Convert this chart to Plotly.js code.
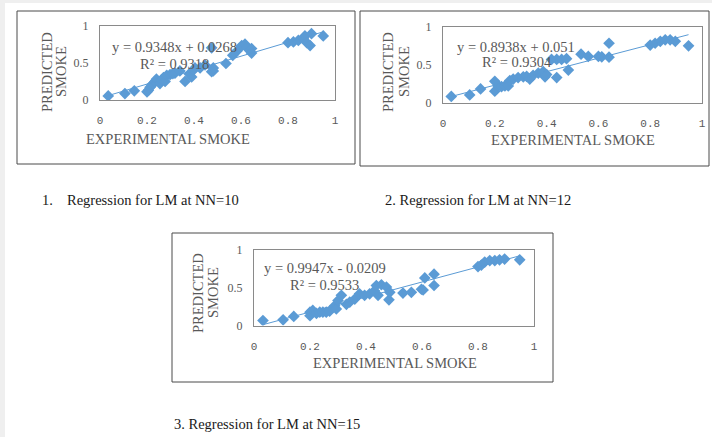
<!DOCTYPE html>
<html>
<head>
<meta charset="utf-8">
<script src="https://cdn.plot.ly/plotly-3.0.1.min.js"></script>
<style>html,body{margin:0;padding:0;background:#fff;}#chart{width:712px;height:437px;}</style>
</head>
<body>
<div id="chart"></div>
<script>
// ---- Data ----
const nn10_x = [0.035,0.106,0.146,0.200,0.206,0.213,0.220,0.227,0.234,0.240,0.255,0.262,0.270,0.277,0.284,0.298,0.310,0.319,0.340,0.362,0.380,0.390,0.397,0.404,0.426,0.447,0.475,0.475,0.482,0.482,0.536,0.565,0.584,0.603,0.617,0.625,0.645,0.645,0.800,0.823,0.844,0.865,0.872,0.880,0.894,0.900,0.950];
const nn10_y = [0.055,0.086,0.123,0.110,0.130,0.170,0.200,0.220,0.250,0.280,0.220,0.270,0.300,0.250,0.330,0.340,0.355,0.360,0.390,0.250,0.350,0.310,0.400,0.430,0.430,0.470,0.380,0.700,0.390,0.430,0.490,0.600,0.660,0.730,0.750,0.700,0.690,0.630,0.770,0.780,0.800,0.830,0.860,0.770,0.730,0.890,0.860];
const nn12_x = [0.032,0.103,0.145,0.200,0.200,0.213,0.226,0.239,0.252,0.258,0.271,0.290,0.310,0.323,0.335,0.348,0.368,0.387,0.394,0.400,0.419,0.439,0.439,0.458,0.477,0.484,0.533,0.561,0.600,0.613,0.641,0.641,0.800,0.819,0.839,0.858,0.877,0.897,0.948];
const nn12_y = [0.080,0.100,0.180,0.150,0.280,0.220,0.210,0.220,0.220,0.290,0.310,0.330,0.340,0.345,0.310,0.360,0.390,0.410,0.340,0.370,0.570,0.570,0.330,0.570,0.580,0.430,0.640,0.610,0.610,0.605,0.600,0.785,0.760,0.785,0.810,0.830,0.830,0.810,0.750];
const nn15_x = [0.032,0.104,0.142,0.200,0.200,0.210,0.223,0.235,0.246,0.258,0.270,0.288,0.294,0.300,0.312,0.330,0.342,0.360,0.377,0.395,0.413,0.430,0.437,0.443,0.455,0.473,0.482,0.485,0.532,0.562,0.598,0.604,0.610,0.643,0.643,0.800,0.812,0.824,0.842,0.860,0.877,0.895,0.949];
const nn15_y = [0.066,0.075,0.120,0.176,0.130,0.200,0.160,0.176,0.176,0.176,0.190,0.260,0.220,0.330,0.400,0.280,0.310,0.350,0.420,0.400,0.420,0.460,0.530,0.400,0.540,0.510,0.340,0.440,0.430,0.440,0.480,0.470,0.630,0.530,0.680,0.780,0.800,0.840,0.860,0.860,0.870,0.880,0.870];

const slopes = [0.9348, 0.8938, 0.9947];
const intercepts = [0.0268, 0.051, -0.0209];
const eqLabels = ["y = 0.9348x + 0.0268", "y = 0.8938x + 0.051", "y = 0.9947x - 0.0209"];
const r2Labels = ["R\u00B2 = 0.9318", "R\u00B2 = 0.9304", "R\u00B2 = 0.9533"];
const captions = ["Regression for LM at NN=10", "2. Regression for LM at NN=12", "3. Regression for LM at NN=15"];
const tickVals = [0, 0.2, 0.4, 0.6, 0.8, 1];
const tickText = ["0", "0.2", "0.4", "0.6", "0.8", "1"];
const yTickVals = [0, 0.5, 1];
const yTickText = ["0", "0.5", "1"];

// ---- Layout helpers ----
const W = 712, H = 437;
const px = v => v / W;
const py = v => 1 - v / H;
const BLUE = '#5B9BD5';
const GREY = '#595959';
const SERIF = '"Liberation Serif", "Times New Roman", serif';

// plot areas in pixels [left, right, top, bottom]
const areas = [[100, 335, 25.5, 100], [443, 702, 27, 102.5], [254, 534, 250, 325.5]];
const outer = [[17, 11, 355, 164], [360, 11, 709, 166], [172, 233, 553, 382]];

const datasets = [[nn10_x, nn10_y], [nn12_x, nn12_y], [nn15_x, nn15_y]];
const traces = [];
const layout = {
  width: W, height: H, margin: {l: 0, r: 0, t: 0, b: 0},
  paper_bgcolor: '#ffffff', plot_bgcolor: '#ffffff', showlegend: false,
  shapes: [], annotations: []
};

datasets.forEach((d, i) => {
  const sfx = i === 0 ? '' : String(i + 1);
  const xa = 'x' + sfx, ya = 'y' + sfx;
  traces.push({
    x: d[0], y: d[1], xaxis: xa, yaxis: ya, type: 'scatter', mode: 'markers',
    marker: {symbol: 'diamond', size: 9, color: BLUE}, hoverinfo: 'skip'
  });
  const xmin = Math.min(...d[0]), xmax = Math.max(...d[0]);
  traces.push({
    x: [xmin, xmax], y: [slopes[i] * xmin + intercepts[i], slopes[i] * xmax + intercepts[i]],
    xaxis: xa, yaxis: ya, type: 'scatter', mode: 'lines',
    line: {color: BLUE, width: 1}, hoverinfo: 'skip'
  });
  const a = areas[i];
  layout['xaxis' + sfx] = {
    domain: [px(a[0]), px(a[1])], range: [0, 1], anchor: ya,
    tickvals: tickVals, ticktext: tickText, ticks: '', ticklabelstandoff: 10,
    tickfont: {family: '"Liberation Mono", monospace', size: 11, color: GREY},
    showgrid: false, zeroline: false, showline: true, mirror: true,
    linecolor: '#8a8a8a', linewidth: 1, fixedrange: true
  };
  layout['yaxis' + sfx] = {
    domain: [py(a[3]), py(a[2])], range: [0, 1], anchor: xa,
    tickvals: yTickVals, ticktext: yTickText, ticks: '', ticklabelstandoff: 8,
    tickfont: {family: SERIF, size: 12, color: GREY},
    showgrid: false, zeroline: false, showline: true, mirror: true,
    linecolor: '#8a8a8a', linewidth: 1, fixedrange: true
  };
  const o = outer[i];
  layout.shapes.push({type: 'rect', xref: 'paper', yref: 'paper',
    x0: px(o[0]), x1: px(o[2]), y0: py(o[3]), y1: py(o[1]),
    line: {color: '#4a4a4a', width: 1}, fillcolor: 'rgba(0,0,0,0)', layer: 'below'});
});

// page grey strips
layout.shapes.push({type: 'rect', xref: 'paper', yref: 'paper', x0: 0, x1: 1, y0: py(3), y1: 1, line: {width: 0}, fillcolor: '#efefef', layer: 'below'});
layout.shapes.push({type: 'rect', xref: 'paper', yref: 'paper', x0: 0, x1: px(5), y0: 0, y1: 1, line: {width: 0}, fillcolor: '#efefef', layer: 'below'});

function ann(text, x, y, opts) {
  layout.annotations.push(Object.assign({
    text: text, xref: 'paper', yref: 'paper', x: px(x), y: py(y),
    xanchor: 'left', yanchor: 'middle', showarrow: false,
    font: {family: SERIF, size: 14.5, color: GREY}
  }, opts || {}));
}

// axis titles
const xTitlePos = [[168, 139], [573, 140], [395, 363]];
const predPos = [[47, 72], [388, 72], [198, 293]];
const smokePos = [[61, 72], [404, 72], [213, 293]];
const eqPos = [[110, 47], [455, 47], [262, 268]];
const r2Pos = [[138, 64], [480, 62], [288, 285]];
for (let i = 0; i < 3; i++) {
  ann('EXPERIMENTAL SMOKE', xTitlePos[i][0], xTitlePos[i][1], {xanchor: 'center'});
  ann('PREDICTED', predPos[i][0], predPos[i][1], {xanchor: 'center', textangle: -90});
  ann('SMOKE', smokePos[i][0], smokePos[i][1], {xanchor: 'center', textangle: -90});
  ann(eqLabels[i], eqPos[i][0], eqPos[i][1]);
  ann(r2Labels[i], r2Pos[i][0], r2Pos[i][1]);
}

// captions
const CAP = {family: SERIF, size: 14.5, color: '#1a1a1a'};
ann('1.', 40, 200, {font: CAP});
ann(captions[0], 65, 200, {font: CAP});
ann(captions[1], 383, 200, {font: CAP});
ann(captions[2], 172, 424, {font: CAP});

Plotly.newPlot('chart', traces, layout, {staticPlot: true, displayModeBar: false});
</script>
</body>
</html>
